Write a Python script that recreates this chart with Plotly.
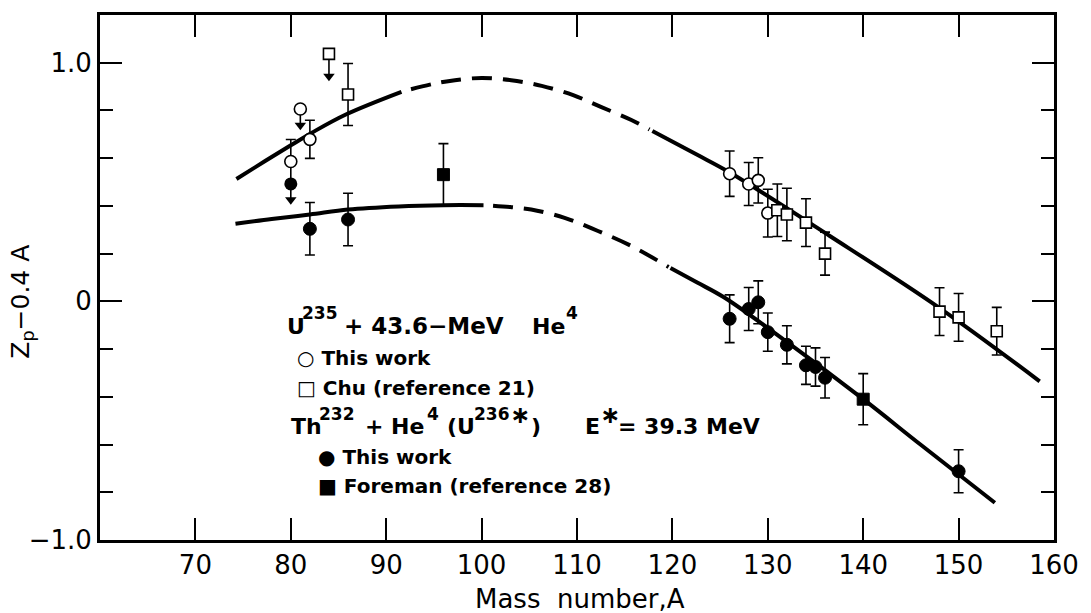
import plotly.graph_objects as go

# ---------------- data ----------------
# U235 + 43.6-MeV He4, this work (open circles)
u_this_x = [80, 82, 126, 128, 129, 130]
u_this_y = [0.586, 0.679, 0.535, 0.492, 0.507, 0.370]
u_this_err = [0.092, 0.080, 0.095, 0.090, 0.095, 0.100]

# Chu (reference 21) (open squares)
chu_x = [86, 131, 132, 134, 136, 148, 150, 154]
chu_y = [0.867, 0.382, 0.364, 0.330, 0.200, -0.043, -0.067, -0.125]
chu_err = [0.130, 0.110, 0.110, 0.100, 0.090, 0.100, 0.100, 0.100]

# Th232 + He4, this work (filled circles)
th_this_x = [82, 86, 126, 128, 129, 130, 132, 134, 135, 136, 150]
th_this_y = [0.304, 0.343, -0.073, -0.032, -0.004, -0.129, -0.182, -0.268, -0.275, -0.320, -0.712]
th_this_err = [0.110, 0.110, 0.100, 0.090, 0.090, 0.080, 0.080, 0.080, 0.080, 0.085, 0.090]

# Foreman (reference 28) (filled squares)
foreman_x = [96, 140]
foreman_y = [0.531, -0.410]
foreman_err = [0.130, 0.107]

# upper limits (value, arrow tip)
u_lim_x = [81]
u_lim_y = [0.806]
u_lim_tip = [0.722]
chu_lim_x = [84]
chu_lim_y = [1.037]
chu_lim_tip = [0.927]
th_lim_x = [80]
th_lim_y = [0.492]
th_lim_tip = [0.410]

# curves: upper (U235) and lower (Th232), split into solid / dashed parts
up_solid1_x = [74.3, 77.35, 79.96, 82.22, 85.77, 91.6]
up_solid1_y = [0.513, 0.589, 0.653, 0.707, 0.783, 0.878]
up_dash_x = [92.6, 95.0, 97.2, 100.0, 103.1, 106.3, 109.6, 112.5, 115.7, 117.6]
up_dash_y = [0.889, 0.912, 0.927, 0.936, 0.927, 0.903, 0.864, 0.815, 0.760, 0.720]
up_solid2_x = [117.9, 122.6, 125.8, 136.5, 147.9, 158.5]
up_solid2_y = [0.714, 0.614, 0.545, 0.274, -0.025, -0.335]

lo_solid1_x = [74.2, 78.0, 82.0, 86.0, 91.3, 96.0, 100.2]
lo_solid1_y = [0.325, 0.345, 0.364, 0.385, 0.398, 0.403, 0.403]
lo_dash_x = [101.2, 103.0, 105.2, 108.7, 112.2, 115.7, 119.6]
lo_dash_y = [0.401, 0.395, 0.385, 0.350, 0.295, 0.232, 0.144]
lo_solid2_x = [119.8, 122.6, 125.4, 132.0, 140.0, 146.0, 153.8]
lo_solid2_y = [0.140, 0.079, 0.017, -0.170, -0.410, -0.600, -0.844]

x_ticks = [70, 80, 90, 100, 110, 120, 130, 140, 150, 160]
x_tick_text = ["70", "80", "90", "100", "110", "120", "130", "140", "150", "160"]
y_ticks = [-1.0, 0.0, 1.0]
y_tick_text = ["\u22121.0", "0", "1.0"]

FONT = "DejaVu Sans"
W, H = 1091, 613
L, R, T, B = 100, 33, 12, 73
PW, PH = W - L - R, H - T - B


def px(xp):
    return (xp - L) / PW


def py(yp):
    return (H - B - yp) / PH


fig = go.Figure()

for xs, ys, dash in [
    (up_solid1_x, up_solid1_y, "solid"),
    (up_dash_x, up_dash_y, "20px,11px"),
    (up_solid2_x, up_solid2_y, "solid"),
    (lo_solid1_x, lo_solid1_y, "solid"),
    (lo_dash_x, lo_dash_y, "20px,11px"),
    (lo_solid2_x, lo_solid2_y, "solid"),
]:
    fig.add_trace(go.Scatter(x=xs, y=ys, mode="lines", line_shape="spline",
                             line=dict(color="black", width=4, dash=dash),
                             showlegend=False, hoverinfo="skip"))


def err(vals):
    return dict(type="data", array=vals, visible=True, color="black",
                thickness=1.6, width=5)


fig.add_trace(go.Scatter(x=u_this_x, y=u_this_y, mode="markers", error_y=err(u_this_err),
                         marker=dict(symbol="circle", size=12, color="white",
                                     line=dict(color="black", width=1.6)),
                         showlegend=False))
fig.add_trace(go.Scatter(x=chu_x, y=chu_y, mode="markers", error_y=err(chu_err),
                         marker=dict(symbol="square", size=11, color="white",
                                     line=dict(color="black", width=1.6)),
                         showlegend=False))
fig.add_trace(go.Scatter(x=th_this_x, y=th_this_y, mode="markers", error_y=err(th_this_err),
                         marker=dict(symbol="circle", size=13, color="black",
                                     line=dict(color="black", width=1)),
                         showlegend=False))
fig.add_trace(go.Scatter(x=foreman_x, y=foreman_y, mode="markers", error_y=err(foreman_err),
                         marker=dict(symbol="square", size=12, color="black",
                                     line=dict(color="black", width=1)),
                         showlegend=False))

# upper-limit arrows
for lx, ly, lt in [(u_lim_x, u_lim_y, u_lim_tip), (chu_lim_x, chu_lim_y, chu_lim_tip),
                   (th_lim_x, th_lim_y, th_lim_tip)]:
    sx, sy = [], []
    for a, b, c in zip(lx, ly, lt):
        sx += [a, a, None]
        sy += [b, c + 0.02, None]
    fig.add_trace(go.Scatter(x=sx, y=sy, mode="lines", line=dict(color="black", width=1.6),
                             showlegend=False, hoverinfo="skip"))
    fig.add_trace(go.Scatter(x=lx, y=[c + 0.016 for c in lt], mode="markers",
                             marker=dict(symbol="triangle-down", size=10, color="black"),
                             showlegend=False, hoverinfo="skip"))

fig.add_trace(go.Scatter(x=u_lim_x, y=u_lim_y, mode="markers",
                         marker=dict(symbol="circle", size=12, color="white",
                                     line=dict(color="black", width=1.6)), showlegend=False))
fig.add_trace(go.Scatter(x=chu_lim_x, y=chu_lim_y, mode="markers",
                         marker=dict(symbol="square", size=11, color="white",
                                     line=dict(color="black", width=1.6)), showlegend=False))
fig.add_trace(go.Scatter(x=th_lim_x, y=th_lim_y, mode="markers",
                         marker=dict(symbol="circle", size=13, color="black"), showlegend=False))

# text annotations (legend-like block), built from pieces so the
# superscripts keep their large size as in the reference
ann = []


def txt(x, y, s, size=20, bold=True, anchor="left"):
    ann.append(dict(xref="paper", yref="paper", x=px(x), y=py(y), text=s, showarrow=False,
                    xanchor=anchor, yanchor="middle",
                    font=dict(family=FONT, size=size, color="black",
                              weight="bold" if bold else "normal")))


MAIN, SUP = 22, 17
# line 1 : U235 + 43.6-MeV He4
y1, y1s = 325, 312
txt(286, y1, "U", MAIN)
txt(301, y1s, "235", SUP)
txt(343, y1, "+ 43.6\u2212MeV", 23)
txt(532, y1, "He", MAIN)
txt(566, y1s, "4", SUP)
txt(296, 357, "\u25cb This work", size=20)
txt(296, 387, "\u25a1 Chu (reference 21)", size=20)
# line 2 : Th232 + He4 (U236*)   E* = 39.3 MeV
y2, y2s = 426, 413
txt(290, y2, "Th", MAIN)
txt(318, y2s, "232", SUP)
txt(364, y2, "+ He", MAIN)
txt(426, y2s, "4", SUP)
txt(446, y2, "(U", MAIN)
txt(474, y2s, "236", SUP)
txt(510, y2s + 1, "\u2217", 24)
txt(531, y2, ")", MAIN)
txt(585, y2, "E", MAIN)
txt(600, y2s + 1, "\u2217", 24)
txt(618, y2, "= 39.3 MeV", MAIN)
txt(317, 457, "\u25cf This work", size=20)
txt(317, 486, "\u25a0 Foreman (reference 28)", size=20)

# axis titles
ann.append(dict(xref="paper", yref="paper", x=px(582), y=py(599), text="Mass  number,A",
                showarrow=False, xanchor="center", yanchor="middle",
                font=dict(family=FONT, size=26, color="black")))
ann.append(dict(xref="paper", yref="paper", x=px(22), y=py(300),
                text="Z<sub>p</sub>\u22120.4 A", textangle=-90,
                showarrow=False, xanchor="center", yanchor="middle",
                font=dict(family=FONT, size=25, color="black")))

fig.update_layout(
    width=W, height=H,
    margin=dict(l=L, r=R, t=T, b=B, pad=0),
    paper_bgcolor="white", plot_bgcolor="white",
    annotations=ann,
    showlegend=False,
    xaxis=dict(range=[60, 160], tickvals=x_ticks, ticktext=x_tick_text,
               ticks="inside", ticklen=22, tickwidth=1.6, tickcolor="black",
               showline=True, linewidth=3, linecolor="black", mirror="ticks",
               showgrid=False, zeroline=False,
               tickfont=dict(family=FONT, size=26, color="black")),
    yaxis=dict(range=[-1.0, 1.2], tickvals=y_ticks, ticktext=y_tick_text,
               ticks="inside", ticklen=22, tickwidth=1.6, tickcolor="black",
               minor=dict(dtick=0.2, ticks="inside", ticklen=13, tickwidth=1.6,
                          tickcolor="black", showgrid=False),
               showline=True, linewidth=3, linecolor="black", mirror="ticks",
               showgrid=False, zeroline=False,
               tickfont=dict(family=FONT, size=26, color="black")),
)

fig.write_html("out.html")
